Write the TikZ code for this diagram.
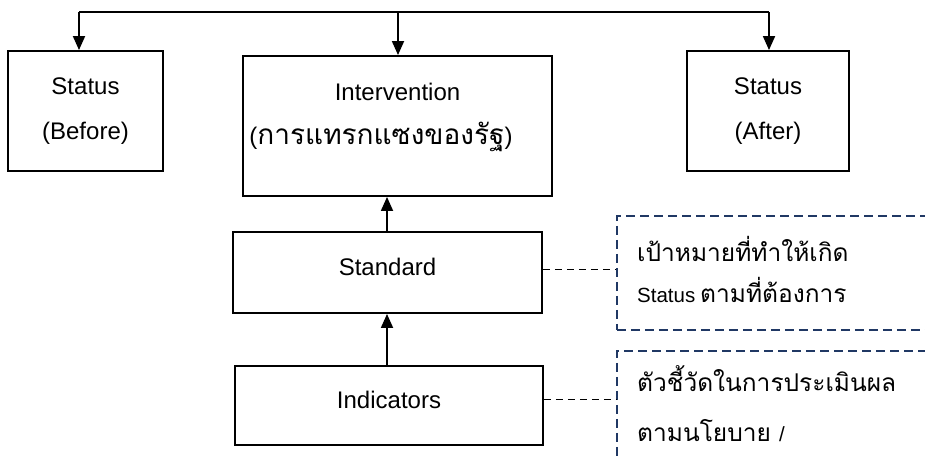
\documentclass[tikz,border=0pt]{standalone}
\usepackage{fontspec}
\setmainfont{Liberation Sans}
\newfontfamily\thai[Script=Thai]{Loma}
\usetikzlibrary{arrows.meta}
\definecolor{navy}{HTML}{203864}
\tikzset{
  box/.style={draw=black, line width=1.9pt, rectangle, inner sep=0pt},
  note/.style={draw=navy, line width=1.9pt, dash pattern=on 9pt off 5pt, rectangle, inner sep=0pt},
  arr/.style={line width=1.8pt, -{Triangle[length=14pt,width=12pt]}},
  link/.style={line width=1.8pt, dash pattern=on 7pt off 5pt},
  txt/.style={inner sep=0pt, font=\fontsize{24}{28}\selectfont},
  ntxt/.style={inner sep=0pt, anchor=base west, font=\fontsize{20.5}{24}\selectfont},
  thtxt/.style={inner sep=0pt, anchor=base west, font=\fontsize{24.5}{28}\selectfont\thai},
}
\newcommand{\thaiA}{\fontsize{28}{30}\selectfont\thai}
\begin{document}
\begin{tikzpicture}[x=1pt,y=-1pt]
\clip (0,0) rectangle (925,457);
\fill[white] (0,0) rectangle (925,457);
% boxes
\node[box, minimum width=155pt, minimum height=120pt] (before) at (85.5,111) {};
\node[box, minimum width=309pt, minimum height=140pt] (interv) at (397.5,126) {};
\node[box, minimum width=162pt, minimum height=120pt] (after) at (768,111) {};
\node[box, minimum width=309pt, minimum height=81pt] (std) at (387.5,272.5) {};
\node[box, minimum width=308pt, minimum height=79pt] (ind) at (389,405.5) {};
% texts
\node[txt] (t1) at (85.5,86) {Status};
\node[txt] (t2) at (85.5,133) {(Before)};
\node[txt] (t3) at (768,86) {Status};
\node[txt] (t4) at (768,133) {(After)};
\node[txt] (t5) at (397.5,92) {Intervention};
\node[txt, anchor=base] (t6) at (381,145) {({\thaiA การแทรกแซงของรัฐ})};
\node[txt] (t7) at (387.5,267) {Standard};
\node[txt] (t8) at (389,400) {Indicators};
% notes
\node[note, anchor=north west, minimum width=330pt, minimum height=114pt] (n1) at (616,215) {};
\node[note, anchor=north west, minimum width=330pt, minimum height=140pt] (n2) at (616,350) {};
\node[thtxt] (n1a) at (637,261) {เป้าหมายที่ทำให้เกิด};
\node[ntxt] (n1b) at (637,302) {Status};
\node[thtxt] (n1c) at (700,302) {ตามที่ต้องการ};
\node[thtxt] (n2a) at (637,391) {ตัวชี้วัดในการประเมินผล};
\node[thtxt] (n2b) at (637,441) {ตามนโยบาย};
\node[ntxt] (n2c) at (779,441) {/};
% top connector
\coordinate (cL) at (79,12);
\coordinate (cM) at (398,12);
\coordinate (cR) at (769,12);
\draw[line width=1.8pt] (cL) -- (cR);
\draw[arr] (cL) -- (cL |- before.north);
\draw[arr] (cM) -- (cM |- interv.north);
\draw[arr] (cR) -- (cR |- after.north);
% vertical arrows
\draw[arr] ([xshift=-0.5pt]std.north) -- ([xshift=-0.5pt]std.north |- interv.south);
\draw[arr] ([xshift=-2pt]ind.north) -- ([xshift=-2pt]ind.north |- std.south);
% dashed links
\draw[link] ([yshift=3pt]std.east) -- ([yshift=3pt]std.east -| n1.west);
\draw[link] ([yshift=6pt]ind.east) -- ([yshift=6pt]ind.east -| n2.west);
\end{tikzpicture}
\end{document}
